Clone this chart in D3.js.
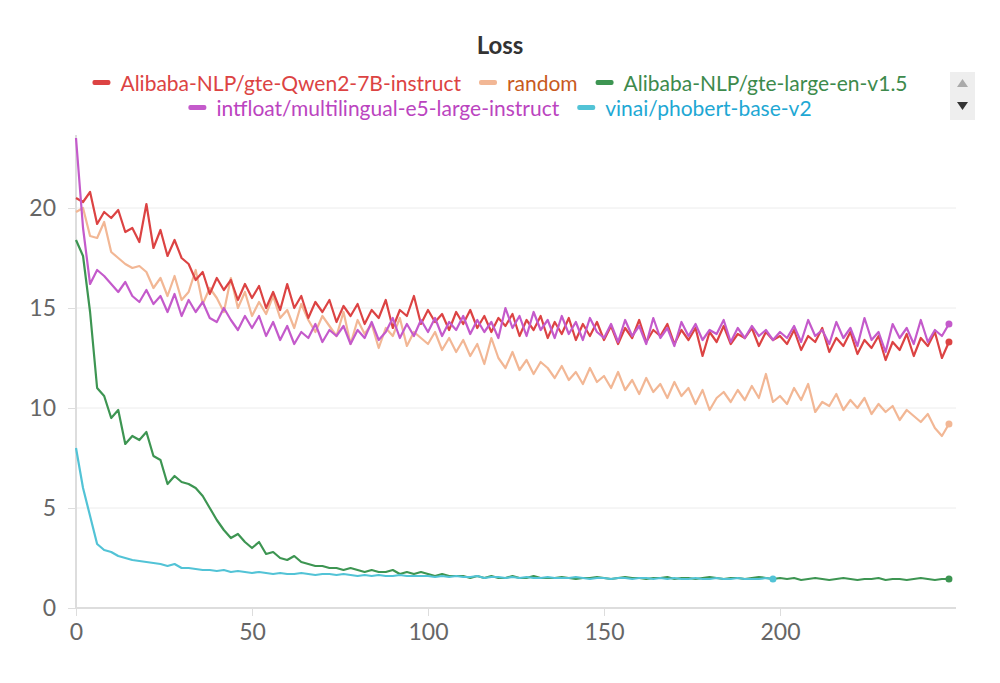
<!DOCTYPE html>
<html><head><meta charset="utf-8">
<script src="https://cdn.jsdelivr.net/npm/d3@7"></script>
<style>body{margin:0;background:#fff;font-family:"Source Sans Pro","Lato",sans-serif;}</style>
</head><body><div id="chart"></div>
<script>
const STEP = 2;
const yTicks = [0, 5, 10, 15, 20];
const xTicks = [0, 50, 100, 150, 200];

const qwen = [20.5,20.3,20.8,19.2,19.8,19.5,19.9,18.8,19.0,18.3,20.2,18.0,18.9,17.6,18.4,17.5,17.2,16.4,16.8,15.7,16.5,15.9,16.4,15.4,16.2,
  15.5,16.1,15.0,15.8,14.9,16.2,15.0,15.6,14.5,15.3,14.8,15.4,14.3,15.1,14.6,15.2,14.2,14.9,14.5,15.4,14.0,14.9,14.6,15.6,14.2,
  14.9,14.3,14.7,13.9,14.8,14.2,14.9,14.0,14.6,13.8,14.5,14.1,14.7,13.6,14.4,13.9,14.6,13.5,14.3,13.7,14.5,13.4,14.2,13.6,14.3,
  13.4,14.1,13.2,14.0,13.5,14.4,13.3,13.9,13.6,14.2,13.2,13.9,13.4,14.0,12.6,13.8,13.3,14.1,13.2,13.7,13.5,14.0,13.1,13.8,13.4,
  13.6,13.2,13.9,12.9,13.6,13.3,14.0,12.8,13.5,13.1,13.8,12.7,13.4,13.0,13.6,12.4,13.3,12.9,13.7,12.6,13.5,13.1,13.8,12.5,13.3];
const random = [19.8,20.0,18.6,18.5,19.3,17.8,17.5,17.2,17.0,17.1,16.8,16.0,16.5,15.6,16.6,15.4,15.8,16.9,15.2,16.0,15.5,14.8,16.5,15.0,15.8,
  14.6,15.3,14.7,15.6,14.5,14.9,14.0,15.2,14.4,13.8,14.6,14.1,13.6,14.8,13.2,14.4,13.7,14.2,13.0,14.0,13.6,14.5,13.1,13.8,13.5,
  13.2,13.8,12.9,13.5,12.8,13.4,12.6,13.2,12.2,13.5,12.5,12.0,12.8,11.9,12.4,11.7,12.3,12.0,11.5,12.1,11.4,11.8,11.2,12.0,11.3,
  11.6,11.0,11.8,10.9,11.4,10.7,11.5,10.8,11.2,10.5,11.3,10.6,11.0,10.2,10.9,9.9,10.5,10.8,10.3,10.9,10.4,11.1,10.5,11.7,10.3,
  10.6,10.2,11.0,10.4,11.2,9.8,10.3,10.1,10.7,9.9,10.4,10.0,10.5,9.7,10.2,9.8,10.1,9.4,9.9,9.6,9.3,9.7,9.0,8.6,9.2];
const gteLarge = [18.4,17.6,14.8,11.0,10.6,9.5,9.9,8.2,8.6,8.4,8.8,7.6,7.4,6.2,6.6,6.3,6.2,6.0,5.6,5.0,4.4,3.9,3.5,3.7,3.3,
  3.0,3.3,2.7,2.8,2.5,2.4,2.6,2.3,2.2,2.1,2.1,2.0,2.0,1.9,2.0,1.9,1.8,1.9,1.8,1.8,1.9,1.7,1.8,1.7,1.8,
  1.7,1.6,1.7,1.6,1.6,1.6,1.5,1.6,1.5,1.6,1.5,1.5,1.6,1.5,1.5,1.6,1.5,1.5,1.5,1.55,1.5,1.45,1.5,1.5,1.55,
  1.5,1.45,1.5,1.55,1.5,1.5,1.45,1.5,1.5,1.55,1.45,1.5,1.5,1.45,1.5,1.55,1.5,1.45,1.5,1.5,1.45,1.5,1.55,1.5,1.45,
  1.5,1.45,1.5,1.4,1.45,1.5,1.45,1.4,1.45,1.5,1.45,1.4,1.45,1.45,1.5,1.4,1.45,1.45,1.4,1.45,1.5,1.45,1.4,1.45,1.45];
const e5 = [23.5,19.0,16.2,16.9,16.6,16.2,15.8,16.3,15.6,15.3,15.9,15.2,15.6,14.8,15.7,14.6,15.4,14.8,15.3,14.5,14.3,15.0,14.4,13.9,14.6,
  14.0,14.6,13.6,14.3,13.4,14.1,13.2,13.8,13.5,14.2,13.3,13.9,13.6,14.1,13.2,13.9,13.5,14.3,13.4,13.8,14.5,13.5,14.2,13.6,14.4,
  13.8,14.5,13.6,14.3,13.9,14.6,13.7,14.4,13.8,14.3,13.5,15.0,14.0,14.6,13.6,14.8,13.9,14.4,13.5,14.6,13.7,14.3,13.4,14.5,13.8,
  13.5,14.2,13.3,14.4,13.6,14.1,13.2,14.5,13.5,14.0,13.1,14.3,13.6,14.2,13.4,13.9,13.7,14.4,13.3,14.0,13.5,14.1,13.6,13.9,13.4,
  13.8,13.5,14.1,13.3,14.4,13.6,13.9,13.2,14.3,13.5,14.0,13.1,14.5,13.4,13.8,12.8,14.2,13.5,14.0,13.2,14.4,13.3,13.9,13.6,14.2];
const phobert = [8.0,6.0,4.6,3.2,2.9,2.8,2.6,2.5,2.4,2.35,2.3,2.25,2.2,2.1,2.2,2.0,2.0,1.95,1.9,1.9,1.85,1.9,1.8,1.85,1.8,
  1.75,1.8,1.75,1.7,1.75,1.7,1.7,1.75,1.7,1.65,1.7,1.7,1.65,1.7,1.65,1.6,1.65,1.6,1.65,1.6,1.6,1.65,1.6,1.6,1.6,
  1.6,1.55,1.6,1.55,1.6,1.55,1.55,1.6,1.5,1.55,1.55,1.5,1.55,1.5,1.55,1.5,1.5,1.55,1.5,1.5,1.5,1.55,1.5,1.45,1.5,
  1.5,1.45,1.5,1.5,1.45,1.5,1.5,1.45,1.5,1.45,1.5,1.45,1.45,1.5,1.45,1.45,1.5,1.45,1.45,1.5,1.45,1.45,1.45,1.5,1.45];

const seriesNames = ["Alibaba-NLP/gte-Qwen2-7B-instruct", "random", "Alibaba-NLP/gte-large-en-v1.5",
  "intfloat/multilingual-e5-large-instruct", "vinai/phobert-base-v2"];
const lineColors = ["#dc4343", "#f2b795", "#3d9552", "#c45acb", "#52c3d6"];
const textColors = ["#dc4343", "#c85a1e", "#3d8a4c", "#bb44c0", "#1ea8d4"];
const drawOrder = [1, 0, 2, 4, 3];
const allData = [qwen, random, gteLarge, e5, phobert];

const svg = d3.select("#chart").append("svg").attr("width", 1000).attr("height", 683);

const x = d3.scaleLinear().domain([0, 250]).range([76, 956]);
const y = d3.scaleLinear().domain([0, 23.65]).range([608, 135]);

// title
svg.append("text").attr("x", 500).attr("y", 54).attr("text-anchor", "middle")
  .attr("font-size", "24px").attr("font-weight", "700").attr("fill", "#333").text("Loss");

// legend
const rows = [[0, 1, 2], [3, 4]];
rows.forEach((row, ri) => {
  const g = svg.append("g");
  let cx = 0;
  row.forEach(i => {
    g.append("rect").attr("x", cx).attr("y", -4).attr("width", 18).attr("height", 5).attr("rx", 2)
      .attr("fill", lineColors[i]);
    const t = g.append("text").attr("x", cx + 28).attr("y", 0).attr("dy", "0.35em")
      .attr("font-size", "21px").attr("fill", textColors[i]).text(seriesNames[i]);
    cx += 28 + t.node().getComputedTextLength() + 18;
  });
  g.attr("transform", `translate(${500 - (cx - 18) / 2}, ${ri === 0 ? 84 : 109})`);
});
svg.append("rect").attr("x", 950).attr("y", 72).attr("width", 25).attr("height", 48).attr("fill", "#eee");
svg.append("path").attr("d", "M957,87 L968,87 L962.5,79 Z").attr("fill", "#aaa");
svg.append("path").attr("d", "M957,102 L968,102 L962.5,110 Z").attr("fill", "#333");

// grid + axes
svg.selectAll(".grid").data(yTicks).enter().append("line")
  .attr("x1", 76).attr("x2", 956).attr("y1", d => y(d)).attr("y2", d => y(d))
  .attr("stroke", "#ececec");
svg.append("line").attr("x1", 76).attr("x2", 76).attr("y1", 135).attr("y2", 608)
  .attr("stroke", "#ddd").attr("stroke-width", 2);
svg.append("line").attr("x1", 76).attr("x2", 956).attr("y1", 608).attr("y2", 608)
  .attr("stroke", "#ddd").attr("stroke-width", 2);

const yAxis = svg.append("g").attr("transform", "translate(76,0)")
  .call(d3.axisLeft(y).tickValues(yTicks).tickSize(8).tickPadding(12));
const xAxis = svg.append("g").attr("transform", "translate(0,608)")
  .call(d3.axisBottom(x).tickValues(xTicks).tickSize(8).tickPadding(8));
[yAxis, xAxis].forEach(a => {
  a.select(".domain").remove();
  a.selectAll("line").attr("stroke", "#ddd");
  a.selectAll("text").attr("font-size", "23px").attr("fill", "#666")
    .attr("font-family", "'Source Sans Pro',Lato,sans-serif");
});

// lines
const line = d3.line().x((d, i) => x(i * STEP)).y(d => y(d));
drawOrder.forEach(i => {
  const d = allData[i];
  svg.append("path").datum(d).attr("d", line).attr("fill", "none")
    .attr("stroke", lineColors[i]).attr("stroke-width", 2.2).attr("stroke-linejoin", "round");
  const last = d.length - 1;
  svg.append("circle").attr("cx", x(last * STEP)).attr("cy", y(d[last])).attr("r", 3.5)
    .attr("fill", lineColors[i]);
});
</script></body></html>
